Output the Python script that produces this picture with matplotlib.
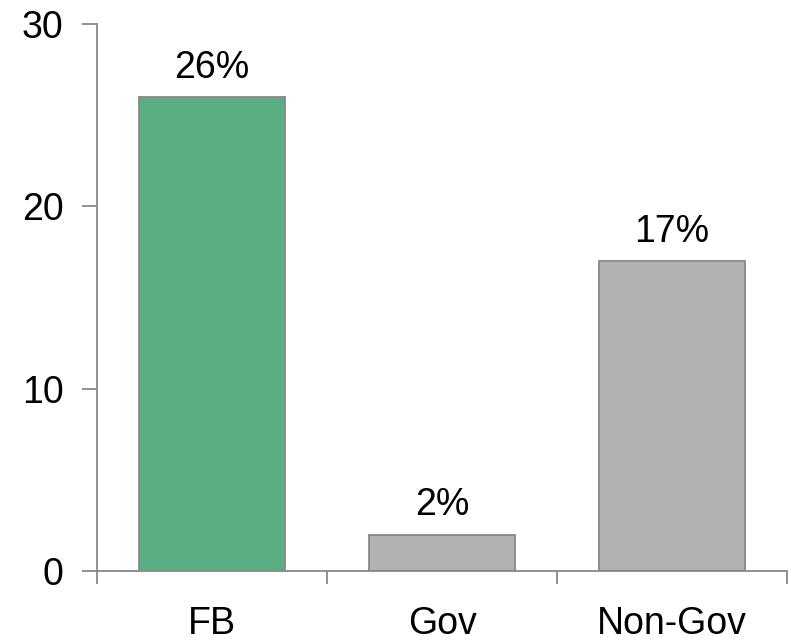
import matplotlib.pyplot as plt

categories = ["FB", "Gov", "Non-Gov"]
values = [26, 2, 17]
value_labels = ["26%", "2%", "17%"]
bar_colors = ["#5bae82", "#b2b2b2", "#b2b2b2"]

plt.rcParams["font.family"] = ["Liberation Sans", "DejaVu Sans"]

fig = plt.figure(figsize=(7.91, 6.43), dpi=100)
ax = fig.add_axes([97 / 791, (643 - 571) / 643, 690 / 791, 547 / 643])

x = list(range(len(categories)))
bars = ax.bar(x, values, width=0.635, color=bar_colors, edgecolor="#878787", linewidth=1.3, zorder=2)

for bar, label in zip(bars, value_labels):
    ax.annotate(
        label,
        (bar.get_x() + bar.get_width() / 2, bar.get_height()),
        xytext=(0, 8),
        textcoords="offset points",
        ha="center",
        va="bottom",
        fontsize=27,
    )

ax.set_xlim(-0.5, len(categories) - 0.5)
ax.set_ylim(0, 30)
ax.set_yticks([0, 10, 20, 30])

# category boundaries get tick marks, category names sit on unmarked minor ticks
ax.set_xticks([i - 0.5 for i in range(len(categories) + 1)])
ax.set_xticklabels([])
ax.set_xticks(x, minor=True)
ax.set_xticklabels(categories, minor=True)

for side in ("top", "right"):
    ax.spines[side].set_visible(False)
for side in ("left", "bottom"):
    ax.spines[side].set_color("#888888")
    ax.spines[side].set_linewidth(1.3)

ax.tick_params(axis="y", direction="out", length=11, width=1.3, color="#888888", labelsize=27, pad=13)
ax.tick_params(axis="x", which="major", direction="out", length=9, width=1.3, color="#888888")
ax.tick_params(axis="x", which="minor", length=0, labelsize=27, pad=25)

fig.savefig("out.png", dpi=100)
